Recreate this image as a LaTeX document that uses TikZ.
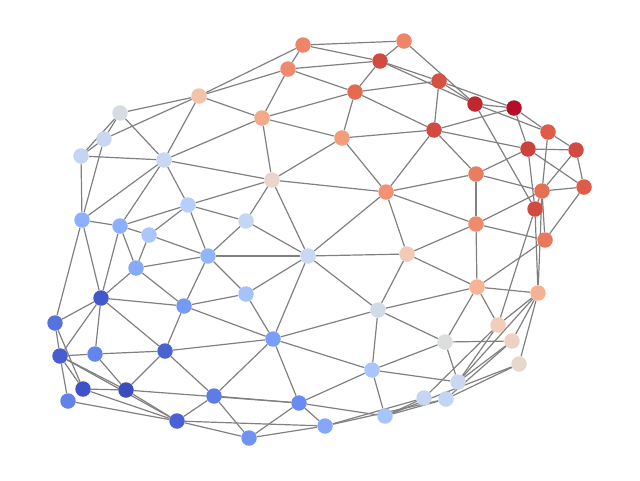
\documentclass[tikz,border=0pt]{standalone}
\usetikzlibrary{backgrounds}
\definecolor{c1}{HTML}{EE8468}\definecolor{c2}{HTML}{EE8468}\definecolor{c3}{HTML}{D24B40}\definecolor{c4}{HTML}{F08A6C}
\definecolor{c5}{HTML}{D6513F}\definecolor{c6}{HTML}{E36B52}\definecolor{c7}{HTML}{C0282F}\definecolor{c8}{HTML}{B70D28}
\definecolor{c9}{HTML}{F2C2A9}\definecolor{c10}{HTML}{F4A989}\definecolor{c11}{HTML}{D7DCE3}\definecolor{c12}{HTML}{C9D7F0}
\definecolor{c13}{HTML}{C4D5F3}\definecolor{c14}{HTML}{C9D7F0}\definecolor{c15}{HTML}{F39B7A}\definecolor{c16}{HTML}{D24B40}
\definecolor{c17}{HTML}{DE5C4A}\definecolor{c18}{HTML}{CD423B}\definecolor{c19}{HTML}{D24B40}\definecolor{c20}{HTML}{E9D5CB}
\definecolor{c21}{HTML}{E97D61}\definecolor{c22}{HTML}{F29274}\definecolor{c23}{HTML}{E56F55}\definecolor{c24}{HTML}{DE5C4A}
\definecolor{c25}{HTML}{D24B40}\definecolor{c26}{HTML}{B6CEFA}\definecolor{c27}{HTML}{C5D6F2}\definecolor{c28}{HTML}{8DB0FE}
\definecolor{c29}{HTML}{8DB0FE}\definecolor{c30}{HTML}{A9C6FD}\definecolor{c31}{HTML}{EF8A6C}\definecolor{c32}{HTML}{E9785D}
\definecolor{c33}{HTML}{93B5FE}\definecolor{c34}{HTML}{C9D7F0}\definecolor{c35}{HTML}{F2CAB5}\definecolor{c36}{HTML}{86A9FC}
\definecolor{c37}{HTML}{4358CB}\definecolor{c38}{HTML}{F6B396}\definecolor{c39}{HTML}{F6B194}\definecolor{c40}{HTML}{7699F6}
\definecolor{c41}{HTML}{A3C2FE}\definecolor{c42}{HTML}{5572DF}\definecolor{c43}{HTML}{D1DAE9}\definecolor{c44}{HTML}{F1CDBA}
\definecolor{c45}{HTML}{EDD1C2}\definecolor{c46}{HTML}{7A9DF8}\definecolor{c47}{HTML}{DCDDDD}\definecolor{c48}{HTML}{465ECF}
\definecolor{c49}{HTML}{6485EC}\definecolor{c50}{HTML}{4A63D3}\definecolor{c51}{HTML}{E6D7CF}\definecolor{c52}{HTML}{AAC7FD}
\definecolor{c53}{HTML}{C9D7F0}\definecolor{c54}{HTML}{3F53C6}\definecolor{c55}{HTML}{3B4CC0}\definecolor{c56}{HTML}{6282EA}
\definecolor{c57}{HTML}{5D7CE6}\definecolor{c58}{HTML}{C5D6F2}\definecolor{c59}{HTML}{C3D5F4}\definecolor{c60}{HTML}{6A8BEF}
\definecolor{c61}{HTML}{A6C4FE}\definecolor{c62}{HTML}{4961D2}\definecolor{c63}{HTML}{84A7FC}\definecolor{c64}{HTML}{7093F3}
\definecolor{edgegray}{HTML}{808080}
\tikzset{v/.style={circle,inner sep=0pt,minimum size=15.5pt,draw=none},
  e/.style={draw=edgegray,line width=1.2pt}}
\begin{document}
\begin{tikzpicture}[x=1pt,y=-1pt]
\useasboundingbox (0,0) rectangle (640,480);
\foreach \n/\x/\y in {1/303/45,2/404/41,3/380/61,4/288/69,5/439/81,6/355/92,7/475/104,8/514/108,
 9/199/96,10/262/118,11/120/113,12/104/139,13/81/156,14/164/160,15/342/138,16/434/130,
 17/548/132,18/528/149,19/576/150,20/272/180,21/476/174,22/386/192,23/542/191,24/584/187,
 25/535/209,26/188/205,27/246/221,28/82/220,29/120/226,30/149/235,31/476/224,32/545/240,
 33/208/256,34/308/256,35/407/254,36/136/268,37/101/298,38/477/287,39/538/293,40/184/306,
 41/246/294,42/55/323,43/378/310,44/498/325,45/512/341,46/273/339,47/445/342,48/60/356,
 49/95/354,50/165/351,51/519/364,52/372/370,53/458/382,54/83/389,55/126/390,56/68/401,
 57/214/396,58/424/398,59/446/399,60/299/403,61/385/416,62/177/421,63/325/426,64/249/438}
 {\node[v,fill=c\n] (n\n) at (\x,\y) {};}
\begin{pgfonlayer}{background}
\foreach \a/\b in {1/2,1/3,1/4,1/9,2/3,2/7,3/4,3/6,3/5,3/7,4/6,4/9,4/10,5/6,5/16,5/7,5/8,
 6/10,6/15,6/16,7/8,7/17,7/25,8/17,8/18,8/16,9/10,9/11,9/12,9/14,10/14,10/15,10/20,
 11/12,11/13,11/14,12/13,12/28,13/14,13/28,14/20,14/26,14/28,14/29,15/16,15/20,15/22,
 16/18,16/21,16/22,17/19,17/23,18/19,18/21,18/24,18/25,19/23,19/24,20/22,20/26,20/27,20/34,
 21/22,21/23,21/31,22/31,22/34,22/35,23/24,23/25,23/31,23/32,23/39,24/32,25/39,25/44,
 26/27,26/29,26/30,26/33,27/33,27/34,28/29,28/37,28/42,29/30,29/36,29/37,30/33,30/36,
 31/32,31/35,31/38,32/38,33/34,33/36,33/40,33/41,34/35,34/41,34/43,34/46,35/38,35/43,
 36/37,36/40,37/40,37/42,37/48,37/49,37/50,38/39,38/43,38/44,38/47,39/44,39/45,39/51,39/53,
 40/41,40/46,40/50,41/46,42/48,42/54,43/46,43/47,43/52,44/53,44/58,45/47,45/53,45/59,
 46/50,46/52,46/57,46/60,47/52,47/53,48/49,48/54,48/55,48/56,48/62,49/50,49/55,50/55,50/57,
 51/59,51/61,52/53,52/60,52/61,54/55,54/62,55/60,55/62,56/62,57/60,57/62,57/64,
 58/61,58/63,59/61,59/63,60/61,60/63,60/64,62/63,62/64,63/64}
 {\path[e] (n\a) -- (n\b);}
\end{pgfonlayer}
\end{tikzpicture}
\end{document}
